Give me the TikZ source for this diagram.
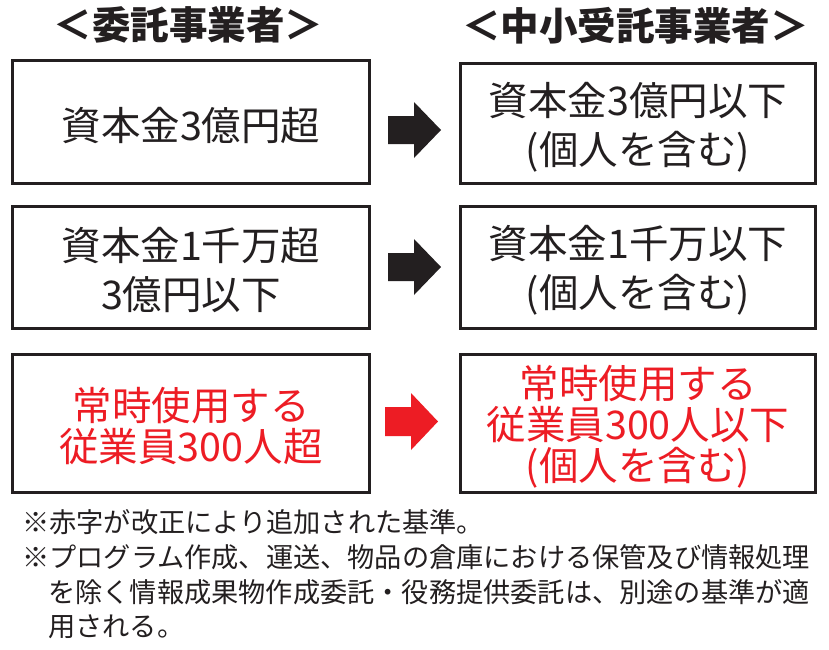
\documentclass[tikz,border=0pt]{standalone}
\usepackage{fontspec}
\setmainfont{Noto Sans CJK JP}
\definecolor{ink}{HTML}{231F20}
\definecolor{redink}{HTML}{ED1C24}
\begin{document}
\begin{tikzpicture}[x=1pt,y=-1pt,
  box/.style={draw=ink, line width=3pt, inner sep=0pt},
  txt/.style={inner sep=0pt, align=center, text=ink},
  big/.style={font=\fontsize{39.5}{49}\selectfont},
  tight/.style={font=\fontsize{39.5}{41}\selectfont},
  head/.style={font=\fontsize{38.5}{40}\selectfont\bfseries, text=ink, inner sep=0pt},
  note/.style={font=\fontsize{27.2}{35}\selectfont, text=ink, inner sep=0pt, anchor=west},
  blockarrow/.style={fill=#1, draw=none}]
\useasboundingbox[fill=white] (0,0) rectangle (829,649);

% headers
\node[head] (hL) at (188.5,25) {＜委託事業者＞};
\node[head] (hR) at (635.5,26) {＜中小受託事業者＞};

% boxes
\node[box, minimum width=357pt, minimum height=123pt] (L1) at (191,122) {};
\node[box, minimum width=355pt, minimum height=120pt] (R1) at (638,123.5) {};
\node[box, minimum width=357pt, minimum height=122pt] (L2) at (191,267.5) {};
\node[box, minimum width=355pt, minimum height=122pt] (R2) at (638,267.5) {};
\node[box, minimum width=357pt, minimum height=138pt] (L3) at (191,423.5) {};
\node[box, minimum width=355pt, minimum height=138pt] (R3) at (638,423.5) {};

% box texts
\node[txt, big] (tL1) at ([yshift=-4pt]L1.center) {資本金3億円超};
\node[txt, big] (tR1) at ([yshift=-4pt]R1.center) {資本金3億円以下\\(個人を含む)};
\node[txt, big] (tL2) at ([yshift=-3pt]L2.center) {資本金1千万超\\3億円以下};
\node[txt, big] (tR2) at ([yshift=-3pt]R2.center) {資本金1千万以下\\(個人を含む)};
\node[txt, tight, text=redink] (tL3) at ([yshift=-3pt]L3.center) {常時使用する\\従業員300人超};
\node[txt, tight, text=redink] (tR3) at ([yshift=-3pt]R3.center) {常時使用する\\従業員300人以下\\(個人を含む)};

% arrows
\fill[blockarrow=ink] (388,116) -- (414,116) -- (414,102) -- (441,130) -- (414,158) -- (414,144) -- (388,144) -- cycle;
\fill[blockarrow=ink] (388,253) -- (414,253) -- (414,239) -- (441,267) -- (414,295) -- (414,281) -- (388,281) -- cycle;
\fill[blockarrow=redink] (385,407) -- (411,407) -- (411,393) -- (438,421.5) -- (411,450) -- (411,436) -- (385,436) -- cycle;

% notes
\node[note] (n1) at (22,522) {※赤字が改正により追加された基準。};
\node[note] (n2) at (22,557) {※プログラム作成、運送、物品の倉庫における保管及び情報処理};
\node[note] (n3) at (48,592) {を除く情報成果物作成委託・役務提供委託は、別途の基準が適};
\node[note] (n4) at (48,627) {用される。};
\end{tikzpicture}
\end{document}
